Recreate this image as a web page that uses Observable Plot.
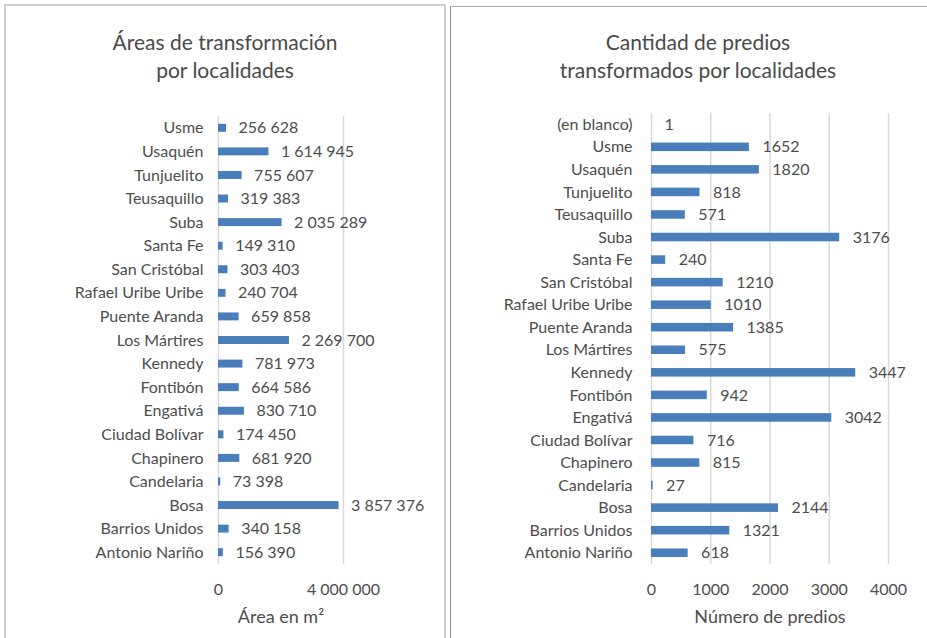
<!DOCTYPE html>
<html><head><meta charset="utf-8">
<script src="https://cdn.jsdelivr.net/npm/d3@7"></script>
<script src="https://cdn.jsdelivr.net/npm/@observablehq/plot@0.6"></script>
<style>
body{margin:0;width:927px;height:638px;overflow:hidden;background:#fff;font-family:Lato,sans-serif;position:relative}
.panel{position:absolute;box-sizing:border-box}
.title{position:absolute;text-align:center;font-size:21px;line-height:28px;color:#4a4a4a}
.chart{position:absolute;top:0}
</style></head><body>
<div class="panel" style="left:4px;top:4px;width:442px;height:700px;border:2px solid #cfcfcf"></div>
<div class="panel" style="left:450px;top:6px;width:520px;height:700px;border-top:1.5px solid #a8a8a8;border-left:1.5px solid #8a8a8a"></div>
<div class="title" style="left:5px;width:440px;top:28px">Áreas de transformación<br>por localidades</div>
<div class="title" style="left:450px;width:496px;top:28px">Cantidad de predios<br>transformados por localidades</div>
<div id="left" class="chart" style="left:0"></div>
<div id="right" class="chart" style="left:450px"></div>
<script>
const areaNames = ["Usme","Usaquén","Tunjuelito","Teusaquillo","Suba","Santa Fe","San Cristóbal","Rafael Uribe Uribe","Puente Aranda","Los Mártires","Kennedy","Fontibón","Engativá","Ciudad Bolívar","Chapinero","Candelaria","Bosa","Barrios Unidos","Antonio Nariño"];
const areaValues = [256628,1614945,755607,319383,2035289,149310,303403,240704,659858,2269700,781973,664586,830710,174450,681920,73398,3857376,340158,156390];
const areaTicks = [0,4000000];

const predNames = ["(en blanco)","Usme","Usaquén","Tunjuelito","Teusaquillo","Suba","Santa Fe","San Cristóbal","Rafael Uribe Uribe","Puente Aranda","Los Mártires","Kennedy","Fontibón","Engativá","Ciudad Bolívar","Chapinero","Candelaria","Bosa","Barrios Unidos","Antonio Nariño"];
const predValues = [1,1652,1820,818,571,3176,240,1210,1010,1385,575,3447,942,3042,716,815,27,2144,1321,618];
const predTicks = [0,1000,2000,3000,4000];

const loc = d3.formatLocale({thousands:"\u00a0", grouping:[3], decimal:",", currency:["",""]});
const fmtArea = loc.format(",d");
const fmtPred = d3.format("d");

const areaData = areaNames.map((n,i)=>({name:n, value:areaValues[i]}));
const predData = predNames.map((n,i)=>({name:n, value:predValues[i]}));

const barColor = "#4a7ebb";
const textColor = "#4d4d4d";
const style = {fontFamily:"Lato, sans-serif", fontSize:"16px", color:textColor, background:"transparent", overflow:"visible"};

const left = Plot.plot({
  width:445, height:638, marginLeft:218, marginRight:102, marginTop:116, marginBottom:74,
  style,
  x:{domain:[0,4000000]},
  y:{domain:areaNames, padding:0, round:false},
  marks:[
    Plot.gridX(areaTicks, {stroke:"#d9d9d9", strokeOpacity:1, strokeWidth:1.5}),
    Plot.barX(areaData, {x:"value", y:"name", fill:barColor, insetTop:7.8, insetBottom:7.8}),
    Plot.text(areaData, {x:"value", y:"name", text:d=>fmtArea(d.value), textAnchor:"start", dx:12, fill:textColor, fontSize:16}),
    Plot.axisX({ticks:areaTicks, tickFormat:fmtArea, tickSize:0, tickPadding:19, label:null, fontSize:16}),
    Plot.axisX({ticks:[], tickSize:0, label:"Área en m²", labelAnchor:"center", labelArrow:"none", labelOffset:58, fontSize:18}),
    Plot.axisY({tickSize:0, tickPadding:15, label:null, fontSize:16})
  ]
});
document.getElementById("left").append(left);

const right = Plot.plot({
  width:477, height:638, marginLeft:201, marginRight:39, marginTop:113, marginBottom:74,
  style,
  x:{domain:[0,4000]},
  y:{domain:predNames, padding:0, round:false},
  marks:[
    Plot.gridX(predTicks, {stroke:"#d9d9d9", strokeOpacity:1, strokeWidth:1.5}),
    Plot.barX(predData, {x:"value", y:"name", fill:barColor, insetTop:7, insetBottom:7}),
    Plot.text(predData, {x:"value", y:"name", text:d=>fmtPred(d.value), textAnchor:"start", dx:13, fill:textColor, fontSize:16}),
    Plot.axisX({ticks:predTicks, tickFormat:fmtPred, tickSize:0, tickPadding:19, label:null, fontSize:16}),
    Plot.axisX({ticks:[], tickSize:0, label:"Número de predios", labelAnchor:"center", labelArrow:"none", labelOffset:58, fontSize:18}),
    Plot.axisY({tickSize:0, tickPadding:19, label:null, fontSize:16})
  ]
});
document.getElementById("right").append(right);
</script>
</body></html>
